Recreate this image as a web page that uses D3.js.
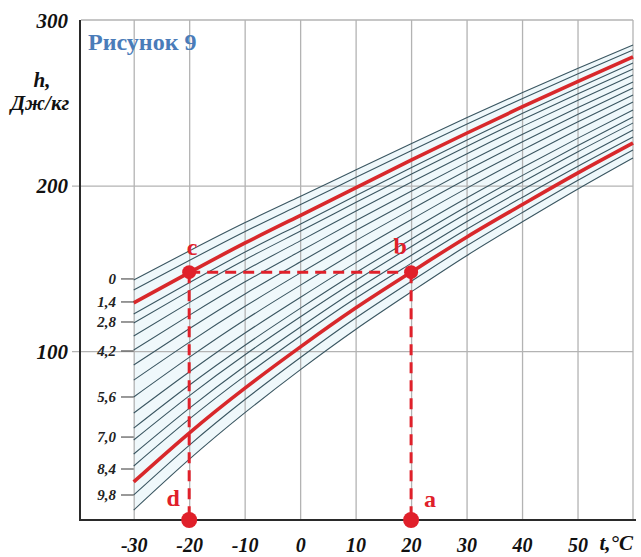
<!DOCTYPE html>
<html>
<head>
<meta charset="utf-8">
<script src="https://cdn.jsdelivr.net/npm/d3@7"></script>
<style>
  body { margin: 0; background: #ffffff; }
  svg { display: block; }
</style>
</head>
<body>
<svg id="chart" width="641" height="557"></svg>
<script>
// ---------------- DATA ----------------
const tValues = [-30, -20, -10, 0, 10, 20, 30, 40, 50, 60];
// enthalpy h of each curve at tValues
const line01 = [143.0, 160.5, 177.5, 193.4, 209.4, 225.3, 240.9, 256.1, 270.7, 284.9];
const line02 = [136.9, 154.7, 172.1, 188.4, 204.8, 221.0, 237.0, 252.5, 267.4, 281.9];
const line03 = [129.1, 147.4, 165.2, 181.9, 198.6, 215.3, 231.6, 247.5, 262.8, 277.7];
const line04 = [122.4, 141.3, 159.7, 176.7, 193.9, 210.8, 227.4, 243.5, 259.0, 274.0];
const line05 = [117.0, 136.4, 155.1, 172.4, 189.8, 206.9, 223.6, 239.8, 255.3, 270.4];
const line06 = [109.1, 129.3, 148.6, 166.6, 184.5, 202.0, 219.1, 235.6, 251.4, 266.8];
const line07 = [100.7, 121.6, 141.7, 160.3, 178.7, 196.5, 214.0, 230.8, 247.0, 262.6];
const line08 = [ 91.6, 113.5, 134.4, 153.8, 172.8, 191.1, 209.1, 226.3, 242.9, 258.9];
const line09 = [ 82.5, 105.3, 126.9, 147.1, 166.7, 185.5, 203.9, 221.4, 238.4, 254.7];
const line10 = [ 72.3,  96.2, 118.8, 139.7, 160.0, 179.4, 198.3, 216.3, 233.7, 250.5];
const line11 = [ 62.6,  87.4, 110.8, 132.4, 153.3, 173.1, 192.5, 210.8, 228.5, 245.6];
const line12 = [ 53.5,  79.4, 103.4, 125.8, 147.3, 167.6, 187.3, 206.0, 224.0, 241.4];
const line13 = [ 46.3,  73.0,  97.7, 120.6, 142.5, 163.1, 183.1, 202.0, 220.3, 237.8];
const line14 = [ 37.8,  65.4,  90.9, 114.4, 136.9, 157.8, 178.2, 197.3, 215.8, 233.6];
const line15 = [ 30.6,  58.9,  84.9, 109.0, 131.9, 153.0, 173.6, 192.8, 211.5, 229.3];
const line16 = [ 21.0,  50.5,  77.5, 102.4, 126.0, 147.7, 168.8, 188.4, 207.5, 225.7];
const line17 = [ 13.1,  43.1,  70.6,  96.0, 120.0, 142.1, 163.6, 183.6, 203.0, 221.5];
const line18 = [  4.0,  34.6,  62.7,  88.7, 113.1, 135.7, 157.6, 178.0, 197.8, 216.7];
const redLines = [2, 15]; // indices of highlighted curves

const xTicks = [-30, -20, -10, 0, 10, 20, 30, 40, 50];
const yTicks = [100, 200, 300];
const moistLabels = ["0", "1,4", "2,8", "4,2", "5,6", "7,0", "8,4", "9,8"];
const moistLabelH = [143.6, 129.7, 117.6, 100.1, 72.3, 48.1, 28.8, 13.1];

const markT = [-20, 20];      // d/c and a/b temperatures
const markH = 147.7;          // h of points c and b
const pointNames = ["c", "b", "d", "a"];

// ---------------- LAYOUT ----------------
const svg = d3.select("#chart");
const pLeft = 81, pRight = 633, pTop = 20, pBottom = 520;
const x = d3.scaleLinear().domain([-39.5, 60]).range([pLeft, pRight]);
const y = d3.scaleLinear().domain([-2, 300]).range([pBottom, pTop]);
const serif = "'Liberation Serif','Times New Roman',serif";

const curves = [line01, line02, line03, line04, line05, line06, line07, line08, line09,
                line10, line11, line12, line13, line14, line15, line16, line17, line18];

// light fill between outermost curves
const area = d3.area()
  .x((d, i) => x(tValues[i]))
  .y0((d, i) => y(line18[i]))
  .y1((d, i) => y(line01[i]))
  .curve(d3.curveNatural);
svg.append("path").datum(line01).attr("d", area).attr("fill", "#eff8fb");

// grid lines
const gx = svg.append("g").attr("transform", `translate(0,${pBottom})`)
  .call(d3.axisBottom(x).tickValues(xTicks).tickSize(-(pBottom - pTop)).tickFormat(""));
gx.select(".domain").remove();
gx.selectAll("line").attr("stroke", "#b3b3b3").attr("stroke-width", 1.3);

const gy = svg.append("g").attr("transform", `translate(72,0)`)
  .call(d3.axisLeft(y).tickValues([100, 200]).tickSize(-(pRight - 72)).tickFormat(""));
gy.select(".domain").remove();
gy.selectAll("line").attr("stroke", "#b3b3b3").attr("stroke-width", 1.3);

// frame top/right
svg.append("line").attr("x1", pLeft).attr("x2", pRight).attr("y1", y(300)).attr("y2", y(300))
  .attr("stroke", "#b3b3b3").attr("stroke-width", 1.3);
svg.append("line").attr("x1", pRight).attr("x2", pRight).attr("y1", pTop).attr("y2", pBottom)
  .attr("stroke", "#b3b3b3").attr("stroke-width", 1.3);

// curves
const line = d3.line().x((d, i) => x(tValues[i])).y(d => y(d)).curve(d3.curveNatural);
svg.append("g").selectAll("path")
  .data(curves.filter((c, i) => !redLines.includes(i)))
  .join("path")
  .attr("d", line).attr("fill", "none")
  .attr("stroke", "#3a5661").attr("stroke-width", 1.1);
svg.append("g").selectAll("path")
  .data(redLines.map(i => curves[i]))
  .join("path")
  .attr("d", line).attr("fill", "none")
  .attr("stroke", "#d8282b").attr("stroke-width", 3.6);

// axes lines
svg.append("line").attr("x1", pLeft - 1).attr("x2", pLeft - 1).attr("y1", pTop).attr("y2", pBottom + 1)
  .attr("stroke", "#2a2a2a").attr("stroke-width", 2);
svg.append("line").attr("x1", pLeft - 1).attr("x2", 636).attr("y1", pBottom).attr("y2", pBottom)
  .attr("stroke", "#2a2a2a").attr("stroke-width", 2);

// x tick labels
const ax = svg.append("g").attr("transform", `translate(0,${pBottom})`)
  .call(d3.axisBottom(x).tickValues(xTicks).tickSize(0).tickFormat(d => String(d)));
ax.select(".domain").remove();
ax.selectAll("text").attr("y", 32).attr("dy", 0)
  .attr("font-family", serif).attr("font-size", 20).attr("font-weight", "bold")
  .attr("font-style", "italic").attr("fill", "#111");

// y tick labels
const ay = svg.append("g").attr("transform", `translate(${pLeft},0)`)
  .call(d3.axisLeft(y).tickValues(yTicks).tickSize(0).tickFormat(d => String(d)));
ay.select(".domain").remove();
ay.selectAll("text").attr("x", -13).attr("dy", "0.35em")
  .attr("font-family", serif).attr("font-size", 21).attr("font-weight", "bold")
  .attr("font-style", "italic").attr("fill", "#111");

// moisture labels with short ticks
const ml = svg.append("g");
ml.selectAll("line").data(moistLabelH).join("line")
  .attr("x1", 121).attr("x2", x(-30)).attr("y1", d => y(d)).attr("y2", d => y(d))
  .attr("stroke", "#555").attr("stroke-width", 1.2);
ml.selectAll("text").data(moistLabels).join("text")
  .attr("x", 116).attr("y", (d, i) => y(moistLabelH[i])).attr("dy", "0.35em")
  .attr("text-anchor", "end")
  .attr("font-family", serif).attr("font-size", 15).attr("font-weight", "bold")
  .attr("font-style", "italic").attr("fill", "#222").text(d => d);

// red construction lines
const dash = "11,7";
const red = "#e0202a";
svg.append("line").attr("x1", x(markT[0])).attr("x2", x(markT[1]))
  .attr("y1", y(markH)).attr("y2", y(markH))
  .attr("stroke", red).attr("stroke-width", 3).attr("stroke-dasharray", dash);
markT.forEach(t => {
  svg.append("line").attr("x1", x(t)).attr("x2", x(t))
    .attr("y1", y(markH)).attr("y2", pBottom)
    .attr("stroke", red).attr("stroke-width", 3).attr("stroke-dasharray", dash);
});
// points c, b (upper) and d, a (on the axis)
const pts = [
  { t: markT[0], yy: y(markH), r: 7 },
  { t: markT[1], yy: y(markH), r: 7 },
  { t: markT[0], yy: pBottom, r: 8 },
  { t: markT[1], yy: pBottom, r: 8 }
];
svg.append("g").selectAll("circle").data(pts).join("circle")
  .attr("cx", d => x(d.t)).attr("cy", d => d.yy).attr("r", d => d.r).attr("fill", red);

// point letters
const letterPos = [
  { dx: 3, dy: -17 },   // c
  { dx: -11, dy: -18 }, // b
  { dx: -16, dy: -14 }, // d
  { dx: 19, dy: -13 }   // a
];
svg.append("g").selectAll("text").data(pointNames).join("text")
  .attr("x", (d, i) => x(pts[i].t) + letterPos[i].dx)
  .attr("y", (d, i) => pts[i].yy + letterPos[i].dy)
  .attr("text-anchor", "middle")
  .attr("font-family", serif).attr("font-size", 24).attr("font-weight", "bold")
  .attr("fill", red).text(d => d);

// axis titles
const titleStyle = sel => sel.attr("font-family", serif).attr("font-weight", "bold")
  .attr("font-style", "italic").attr("fill", "#111");
svg.append("text").attr("x", 42).attr("y", 87).attr("text-anchor", "middle")
  .attr("font-size", 21).call(titleStyle).text("h,");
svg.append("text").attr("x", 40).attr("y", 110).attr("text-anchor", "middle")
  .attr("font-size", 21).call(titleStyle).text("Дж/кг");
svg.append("text").attr("x", 633).attr("y", 550).attr("text-anchor", "end")
  .attr("font-size", 21).call(titleStyle).text("t,°C");

// figure caption
svg.append("text").attr("x", 88).attr("y", 50)
  .attr("font-family", serif).attr("font-size", 24).attr("font-weight", "bold")
  .attr("fill", "#4a7cb9").text("Рисунок 9");
</script>
</body>
</html>
